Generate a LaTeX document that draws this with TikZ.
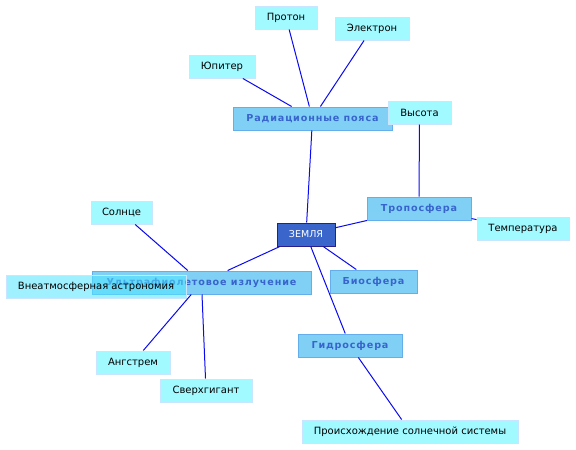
\documentclass[tikz,border=0pt]{standalone}
\usepackage{fontspec}
\setmainfont{DejaVu Sans}
\newfontfamily\catfont[LetterSpace=9]{DejaVu Sans}
\usetikzlibrary{positioning}
\definecolor{earthfill}{RGB}{58,102,204}
\definecolor{earthline}{RGB}{40,30,140}
\definecolor{catfill}{RGB}{128,208,245}
\definecolor{catline}{RGB}{100,175,235}
\definecolor{cattext}{RGB}{55,100,205}
\definecolor{leaffill}{RGB}{160,250,255}
\definecolor{leafline}{RGB}{200,230,255}
\definecolor{overfill}{RGB}{80,230,255}
\definecolor{linkblue}{RGB}{10,10,240}

\begin{document}
\begin{tikzpicture}[x=1pt, y=-1pt,
    earth/.style={draw=earthline, fill=earthfill, line width=1pt, minimum height=23pt, inner sep=0pt, text=white, font=\fontsize{9.5}{11}\selectfont},
    cat/.style={draw=catline, fill=catfill, line width=1pt, minimum height=23pt, inner sep=0pt, text=cattext, font=\catfont\bfseries\fontsize{9.6}{11}\selectfont},
    leaf/.style={draw=leafline, fill=leaffill, line width=1pt, minimum height=23pt, inner sep=0pt, font=\fontsize{10}{12}\selectfont},
    link/.style={draw=linkblue, line width=1pt}]
    \useasboundingbox (0,0) rectangle (576,450);
    % Center
    \node[earth, minimum width=58pt] (zemlya) at (306,234.5) {ЗЕМЛЯ};
    % Branches
    \node[cat, minimum width=159pt] (radiacia) at (312.5,118.5) {Радиационные пояса};
    \node[cat, minimum width=104pt] (troposfera) at (419,208.5) {Тропосфера};
    \node[cat, minimum width=87pt] (biosfera) at (373.5,281.5) {Биосфера};
    \node[cat, minimum width=104pt] (gidrosfera) at (350,345.5) {Гидросфера};
    \node[cat, minimum width=219pt] (ultrafiolet) at (201.5,282.5) {Ультрафиолетовое излучение};
    % Leaves
    \node[leaf, minimum width=62pt] (proton) at (286,17.5) {Протон};
    \node[leaf, minimum width=74pt] (elektron) at (372,28.5) {Электрон};
    \node[leaf, minimum width=66pt] (yupiter) at (222,66.5) {Юпитер};
    \node[leaf, minimum width=63pt] (vysota) at (419.5,112.5) {Высота};
    \node[leaf, minimum width=92pt] (temperatura) at (523,228.5) {Температура};
    \node[leaf, minimum width=216pt] (proiskhozhdenie) at (410,431.5) {Происхождение солнечной системы};
    \node[leaf, minimum width=61pt] (solnce) at (121.5,212.5) {Солнце};
    \node[leaf, fill=overfill, minimum width=180pt, fill opacity=0.55, text opacity=1] (vneatm) at (96,286.5) {Внеатмосферная астрономия};
    \node[leaf, minimum width=74pt] (angstrem) at (133,362.5) {Ангстрем};
    \node[leaf, minimum width=92pt] (sverkhgigant) at (206,390.5) {Сверхгигант};
    % Connectors
    \draw[link] (zemlya) -- (radiacia);
    \draw[link] (radiacia) -- (proton);
    \draw[link] (radiacia) -- (elektron);
    \draw[link] (radiacia) -- (yupiter);
    \draw[link] (zemlya) -- (troposfera);
    \draw[link] (troposfera) -- (vysota);
    \draw[link] (troposfera) -- (temperatura);
    \draw[link] (zemlya) -- (biosfera);
    \draw[link] (zemlya) -- (gidrosfera);
    \draw[link] (gidrosfera) -- (proiskhozhdenie);
    \draw[link] (zemlya) -- (ultrafiolet);
    \draw[link] (ultrafiolet) -- (solnce);
    \draw[link] (ultrafiolet) -- (angstrem);
    \draw[link] (ultrafiolet) -- (sverkhgigant);
\end{tikzpicture}
\end{document}
